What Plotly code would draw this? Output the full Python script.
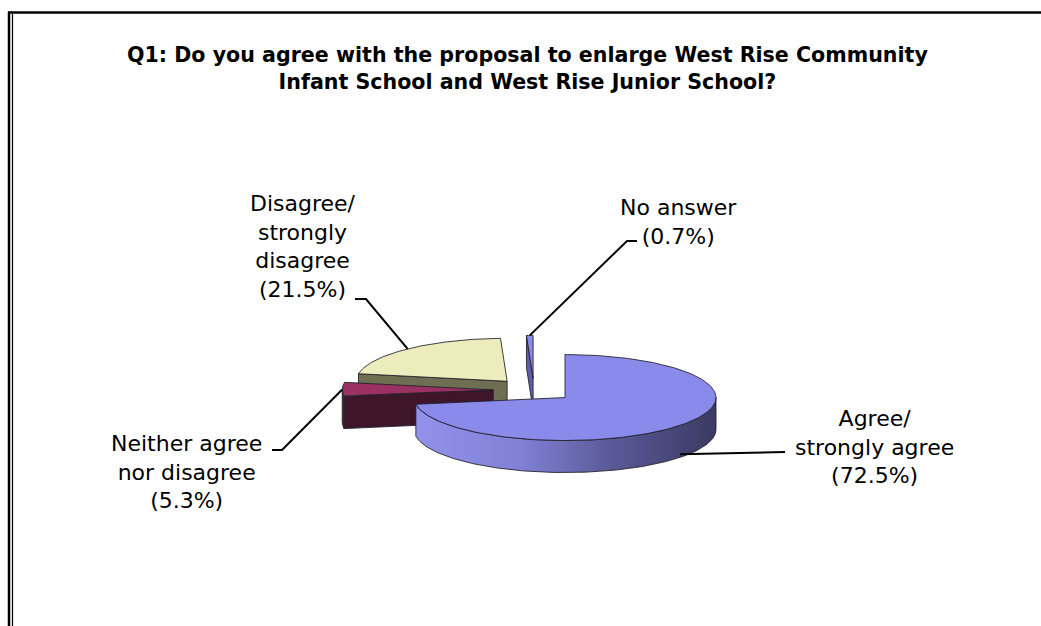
import numpy as np
import plotly.graph_objects as go

# ---------------- data ----------------
categories = ["Agree/<br>strongly agree",
              "Neither agree<br>nor disagree",
              "Disagree/<br>strongly<br>disagree",
              "No answer"]
percentages = [72.5, 5.3, 21.5, 0.7]
title_lines = ["Q1: Do you agree with the proposal to enlarge West Rise Community",
               "Infant School and West Rise Junior School?"]

# ---------------- styles / layout ----------------
W, H = 1041, 626
FONT = "DejaVu Sans"
top_colors = ["#8A8AEA", "#9B3062", "#ECECBD", "#8A8AEA"]
face_colors = ["#5A5AA8", "#3F1529", "#6E6E52", "#5C5CB0"]
wall_colors = ["#7070C8", "#5A1E3A", "#9C9C74", "#6A6AC0"]
agree_wall_scale = [[0.0, "#9292EC"], [0.35, "#8080D6"], [0.65, "#5A5A98"], [1.0, "#3A3A62"]]
edge = "rgba(30,30,40,0.85)"

CX, CY = 534, 390      # pie centre (pixel space of the axes)
RX, RY = 151, 43       # ellipse radii
DEPTH = 32             # thickness
EXPLODE = 0.27

# label placement: (text centre x, text centre y), leader elbow points
label_pos = [(874, 447), (186, 472), (303, 246), (678, 222)]
leader_elbows = [[(785, 452)], [(272, 450), (282, 450)], [(355, 299), (366, 299)], [(637, 241), (627, 241)]]


def rim(vx, vy, th, dy=0.0):
    t = np.radians(th)
    return vx + RX * np.sin(t), vy - RY * np.cos(t) + dy


def arc(vx, vy, a, b, dy=0.0):
    n = max(2, int(abs(b - a)) + 2)
    th = np.linspace(a, b, n)
    t = np.radians(th)
    return list(vx + RX * np.sin(t)), list(vy - RY * np.cos(t) + dy)


fig = go.Figure()

def poly(xs, ys, color=None, gradient=None):
    kw = dict(x=xs + [xs[0]], y=ys + [ys[0]], mode="lines", fill="toself",
              line=dict(color=edge, width=1), hoverinfo="skip", showlegend=False)
    if gradient is not None:
        kw["fillgradient"] = dict(type="horizontal", colorscale=gradient)
    else:
        kw["fillcolor"] = color
    fig.add_trace(go.Scatter(**kw))

cum = np.concatenate([[0], np.cumsum(percentages)]) / 100.0 * 360.0
slices = []
for i, p in enumerate(percentages):
    a, b = cum[i], cum[i + 1]
    mid = (a + b) / 2
    m = np.radians(mid)
    vx = CX + EXPLODE * RX * np.sin(m)
    vy = CY - EXPLODE * RY * np.cos(m)
    slices.append(dict(i=i, a=a, b=b, mid=mid, vx=vx, vy=vy))

# painter's order: back slices first
for s in sorted(slices, key=lambda s: s["vy"]):
    i, a, b, vx, vy = s["i"], s["a"], s["b"], s["vx"], s["vy"]
    # radial faces
    for th, vis in ((a, np.sin(np.radians(a)) < -1e-3), (b, np.sin(np.radians(b)) > 1e-3)):
        if vis:
            rx_, ry_ = rim(vx, vy, th)
            poly([vx, rx_, rx_, vx], [vy, ry_, ry_ + DEPTH, vy + DEPTH], color=face_colors[i])
    # outer wall (front half only)
    lo, hi = max(a, 90.0), min(b, 270.0)
    if hi > lo:
        tx, ty = arc(vx, vy, lo, hi)
        bx, by = arc(vx, vy, hi, lo, DEPTH)
        if i == 0:
            poly(tx + bx, ty + by, gradient=agree_wall_scale)
        else:
            poly(tx + bx, ty + by, color=wall_colors[i])
    # top face
    tx, ty = arc(vx, vy, a, b)
    poly([vx] + tx, [vy] + ty, color=top_colors[i])

# leader lines + labels
for s in slices:
    i = s["i"]
    px, py = rim(s["vx"], s["vy"], s["mid"])
    if np.cos(np.radians(s["mid"])) < -0.2:
        py += DEPTH * 0.9
    pts = leader_elbows[i] + [(px, py)]
    fig.add_trace(go.Scatter(x=[q[0] for q in pts], y=[q[1] for q in pts], mode="lines",
                             line=dict(color="#000000", width=2), hoverinfo="skip", showlegend=False))
    lx, ly = label_pos[i]
    fig.add_annotation(x=lx, y=ly, xref="x", yref="y", showarrow=False,
                       text=f"{categories[i]}<br>({percentages[i]}%)",
                       xanchor="center", yanchor="middle", align="center",
                       font=dict(family=FONT, size=22, color="#000000"))

fig.add_annotation(x=527, y=68, xref="x", yref="y", showarrow=False,
                   text="<b>" + "<br>".join(title_lines) + "</b>",
                   xanchor="center", yanchor="middle", align="center",
                   font=dict(family=FONT, size=20.6, color="#000000"))

# frame lines
fig.add_shape(type="line", x0=8, x1=W, y0=12.5, y1=12.5, xref="x", yref="y",
              line=dict(color="#000", width=2.5))
fig.add_shape(type="line", x0=9, x1=9, y0=12, y1=H, xref="x", yref="y",
              line=dict(color="#000", width=2.5))
fig.add_shape(type="line", x0=12.5, x1=12.5, y0=14, y1=H, xref="x", yref="y",
              line=dict(color="#000", width=1.2))

fig.update_xaxes(range=[0, W], visible=False, fixedrange=True)
fig.update_yaxes(range=[H, 0], visible=False, fixedrange=True)
fig.update_layout(width=W, height=H, margin=dict(l=0, r=0, t=0, b=0),
                  plot_bgcolor="white", paper_bgcolor="white")

fig.write_html("out.html", config={"displayModeBar": False},
               post_script="document.body.style.margin='0';")
